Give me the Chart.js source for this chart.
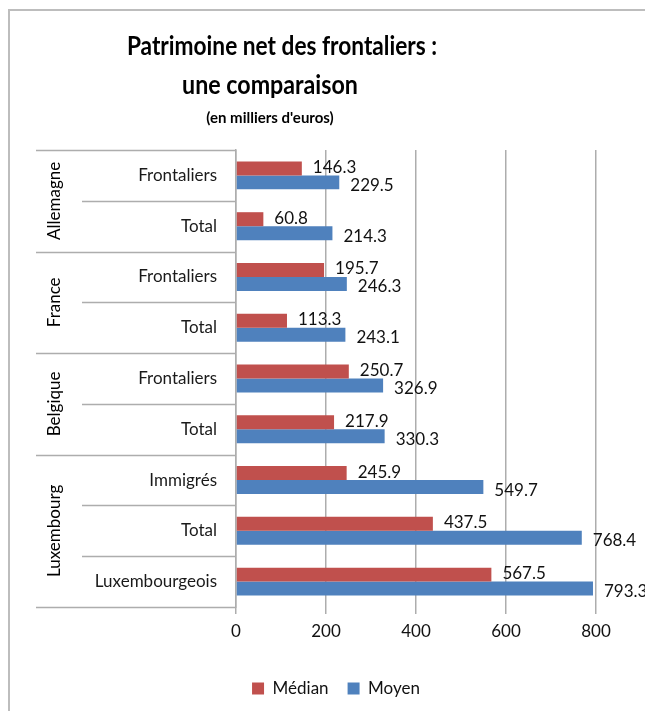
<!DOCTYPE html>
<html>
<head>
<meta charset="utf-8">
<script src="https://cdn.jsdelivr.net/npm/chart.js@4"></script>
<style>
html,body{margin:0;padding:0;background:#fff;overflow:hidden}
#wrap{width:645px;height:711px;position:relative}
</style>
</head>
<body>
<div id="wrap"><canvas id="c" width="645" height="711"></canvas></div>
<script>
// ---- data ----
const countries = ['Allemagne', 'France', 'Belgique', 'Luxembourg'];
const groupSizes = [2, 2, 2, 3];
const categories = ['Frontaliers', 'Total', 'Frontaliers', 'Total', 'Frontaliers', 'Total', 'Immigrés', 'Total', 'Luxembourgeois'];
const medianValues = [146.3, 60.8, 195.7, 113.3, 250.7, 217.9, 245.9, 437.5, 567.5];
const meanValues = [229.5, 214.3, 246.3, 243.1, 326.9, 330.3, 549.7, 768.4, 793.3];
const xTicks = [0, 200, 400, 600, 800];
const seriesNames = ['Médian', 'Moyen'];
const titleLines = ['Patrimoine net des frontaliers :', 'une comparaison'];
const subtitleText = "(en milliers d'euros)";

const FONT = 'Lato, "Open Sans", sans-serif';
const GRID = '#adadad';

const framePlugin = {
  id: 'frame',
  beforeDraw(chart) {
    const ctx = chart.ctx;
    ctx.save();
    ctx.fillStyle = '#fff';
    ctx.fillRect(0, 0, chart.width, chart.height);
    ctx.strokeStyle = '#bdbdbd';
    ctx.lineWidth = 2;
    ctx.beginPath();
    ctx.moveTo(9, chart.height + 2);
    ctx.lineTo(9, 10);
    ctx.lineTo(chart.width + 2, 10);
    ctx.stroke();
    ctx.restore();
  }
};

function condensedText(ctx, text, cx, baseline, sx) {
  ctx.save();
  ctx.translate(cx, baseline);
  ctx.scale(sx, 1);
  ctx.fillText(text, 0, 0);
  ctx.restore();
}

const titlePlugin = {
  id: 'titles',
  afterDraw(chart) {
    const ctx = chart.ctx;
    ctx.save();
    ctx.fillStyle = '#000';
    ctx.textAlign = 'center';
    ctx.textBaseline = 'alphabetic';
    ctx.font = 'bold 27px ' + FONT;
    condensedText(ctx, titleLines[0], 282, 55, 0.84);
    condensedText(ctx, titleLines[1], 270, 94, 0.86);
    ctx.font = 'bold 15px ' + FONT;
    condensedText(ctx, subtitleText, 270, 123, 1.0);
    ctx.restore();
  }
};

const groupPlugin = {
  id: 'groups',
  afterDraw(chart) {
    const ctx = chart.ctx;
    const y = chart.scales.y;
    const area = chart.chartArea;
    const n = categories.length;
    const rowH = (area.bottom - area.top) / n;
    const axisX = area.left;
    ctx.save();
    ctx.strokeStyle = GRID;
    ctx.lineWidth = 1.5;
    const groupStarts = new Set();
    let acc = 0;
    groupSizes.forEach(s => { groupStarts.add(acc); acc += s; });
    groupStarts.add(n);
    for (let i = 0; i <= n; i++) {
      const by = i < n ? y.getPixelForValue(i) - rowH / 2 : y.getPixelForValue(n - 1) + rowH / 2;
      const x0 = groupStarts.has(i) ? 36 : 82;
      ctx.beginPath();
      ctx.moveTo(x0, Math.round(by) + 0.5);
      ctx.lineTo(axisX, Math.round(by) + 0.5);
      ctx.stroke();
    }
    ctx.fillStyle = '#000';
    ctx.font = '17px ' + FONT;
    ctx.textAlign = 'center';
    ctx.textBaseline = 'middle';
    acc = 0;
    countries.forEach((c, gi) => {
      const s = groupSizes[gi];
      const yTop = y.getPixelForValue(acc) - rowH / 2;
      const yBot = y.getPixelForValue(acc + s - 1) + rowH / 2;
      ctx.save();
      ctx.translate(55, (yTop + yBot) / 2);
      ctx.rotate(-Math.PI / 2);
      ctx.fillText(c, 0, 0);
      ctx.restore();
      acc += s;
    });
    ctx.restore();
  }
};

const valueLabelPlugin = {
  id: 'valueLabels',
  afterDatasetsDraw(chart) {
    const ctx = chart.ctx;
    ctx.save();
    ctx.fillStyle = '#111';
    ctx.font = '17px ' + FONT;
    ctx.textAlign = 'left';
    ctx.textBaseline = 'middle';
    chart.data.datasets.forEach((ds, di) => {
      const meta = chart.getDatasetMeta(di);
      meta.data.forEach((el, i) => {
        ctx.fillText(ds.data[i].toFixed(1), el.x + 11, el.y + (di === 0 ? -1 : 3));
      });
    });
    ctx.restore();
  }
};

new Chart(document.getElementById('c'), {
  type: 'bar',
  data: {
    labels: categories,
    datasets: [
      { label: seriesNames[0], data: medianValues, backgroundColor: '#c0504d', borderWidth: 0 },
      { label: seriesNames[1], data: meanValues, backgroundColor: '#4f81bd', borderWidth: 0 }
    ]
  },
  options: {
    responsive: false,
    animation: false,
    indexAxis: 'y',
    devicePixelRatio: 1,
    layout: { padding: { top: 150, left: 76, right: 49, bottom: 4 } },
    datasets: { bar: { categoryPercentage: 0.55, barPercentage: 1.0 } },
    scales: {
      x: {
        min: 0, max: 800,
        afterBuildTicks(scale) { scale.ticks = xTicks.map(v => ({ value: v })); },
        grid: { color: GRID, lineWidth: 1.5, drawTicks: true, tickLength: 7, tickColor: GRID },
        border: { display: false },
        ticks: { color: '#111', font: { family: FONT, size: 17 }, padding: 7 },
        afterFit(scale) { scale.height = 54; }
      },
      y: {
        grid: { display: false },
        border: { display: true, color: GRID, width: 1.5 },
        ticks: { color: '#1a1a1a', font: { family: FONT, size: 17 }, padding: 11 },
        afterFit(scale) { scale.width = 160; }
      }
    },
    plugins: {
      legend: {
        position: 'bottom',
        labels: { boxWidth: 12, boxHeight: 12, padding: 19, color: '#111', font: { family: FONT, size: 17 } }
      },
      tooltip: { enabled: false },
      title: { display: false }
    }
  },
  plugins: [framePlugin, titlePlugin, groupPlugin, valueLabelPlugin]
});
</script>
</body>
</html>
